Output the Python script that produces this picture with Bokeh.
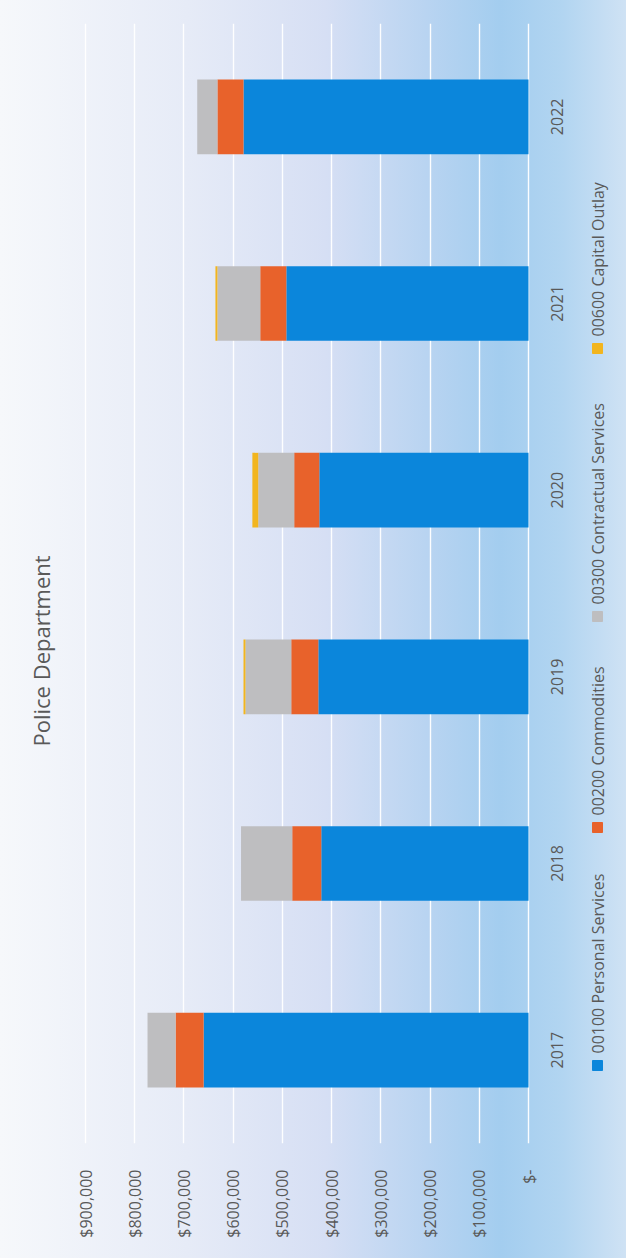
import math
from bokeh.plotting import figure
from bokeh.models import Range1d, FixedTicker, Label, ColumnDataSource
from bokeh.core.properties import value
from bokeh.embed import file_html
from bokeh.resources import INLINE

# ---- data ----
years = ["2017", "2018", "2019", "2020", "2021", "2022"]
personal_services = [660000, 421000, 427000, 425000, 492000, 579000]
commodities = [57000, 59000, 55000, 51000, 53000, 53000]
contractual_services = [57000, 104000, 93000, 73000, 87000, 41000]
capital_outlay = [0, 0, 4000, 12000, 4000, 0]
series_keys = ["personal", "commodities", "contractual", "capital"]
series_names = ["00100 Personal Services", "00200 Commodities",
                "00300 Contractual Services", "00600 Capital Outlay"]
tick_values = [0, 100000, 200000, 300000, 400000, 500000, 600000, 700000, 800000, 900000]
tick_labels = ["$-", "$100,000", "$200,000", "$300,000", "$400,000", "$500,000",
               "$600,000", "$700,000", "$800,000", "$900,000"]
chart_title = "Police Department"

# ---- styles / layout ----
colors = ["#0b86db", "#e8622b", "#bebec0", "#f2b51e"]
text_col = "#595959"
font = "Open Sans"
W, H = 626, 1258
px_max, px_zero = 85, 528          # screen x of $900,000 and of $0
vmax = tick_values[-1]
per_px = vmax / (px_zero - px_max)
x_start = vmax + px_max * per_px
x_end = -(W - px_zero) * per_px

source = ColumnDataSource(dict(year=years, pos=list(range(len(years))),
                               personal=personal_services,
                               commodities=commodities,
                               contractual=contractual_services,
                               capital=capital_outlay))

p = figure(width=W, height=H, output_backend="svg", toolbar_location=None,
           y_range=Range1d(-0.5, len(years) - 0.5), x_range=Range1d(x_start, x_end),
           y_axis_location=None, min_border_left=0, min_border_right=0,
           min_border_top=23, min_border_bottom=115)
p.background_fill_color = None
p.border_fill_color = None
p.outline_line_color = None

p.extra_x_ranges = {"px": Range1d(0, W)}
p.extra_y_ranges = {"px": Range1d(1143, 23)}

p.hbar_stack(series_keys, y="pos", height=0.4, fill_color=colors,
             line_color=None, source=source)

ax = p.xaxis[0]
ax.ticker = FixedTicker(ticks=tick_values)
ax.major_label_overrides = dict(zip(tick_values, tick_labels))
ax.major_label_orientation = math.pi / 2
ax.axis_line_color = None
ax.major_tick_line_color = None
ax.minor_tick_line_color = None
ax.major_label_standoff = 20
ax.major_label_text_font = font
ax.major_label_text_font_size = "16px"
ax.major_label_text_color = text_col

p.xgrid.grid_line_color = "white"
p.xgrid.grid_line_alpha = 0.95
p.xgrid.grid_line_width = 1.4
p.ygrid.grid_line_color = None

# category labels
p.text(x=-57000, y="pos", text="year", source=source, angle=math.pi / 2,
       text_align="center", text_baseline="middle", text_font=value(font),
       text_font_size="16px", text_color=text_col)

# legend (rotated)
sq_y = [1065, 827, 616, 348]
p.scatter(x=[597] * 4, y=sq_y, marker="square", size=10, color=colors,
          x_range_name="px", y_range_name="px")
p.text(x=[597] * 4, y=[v - 12 for v in sq_y], text=series_names, angle=math.pi / 2,
       text_align="left", text_baseline="middle", text_font=value(font),
       text_font_size="16px", text_color=text_col,
       x_range_name="px", y_range_name="px")

# rotated chart title
title = Label(x=40, y=746, x_range_name="px", y_range_name="px", text=chart_title,
              angle=math.pi / 2, text_align="left", text_baseline="middle",
              text_font=font, text_font_size="22px", text_color=text_col)
p.add_layout(title)

html = file_html(p, INLINE, title=chart_title)
css = ("<style>html,body{margin:0;padding:0;width:626px;height:1258px;"
       "background:linear-gradient(to right,#f6f8fb 0%,#e6ebf7 30%,#d6dff4 52%,"
       "#b9d4f1 68%,#a3cdef 80%,#b2d5f1 90%,#cfe2f4 100%);}</style></head>")
html = html.replace("</head>", css, 1)
open("out.html", "w").write(html)
